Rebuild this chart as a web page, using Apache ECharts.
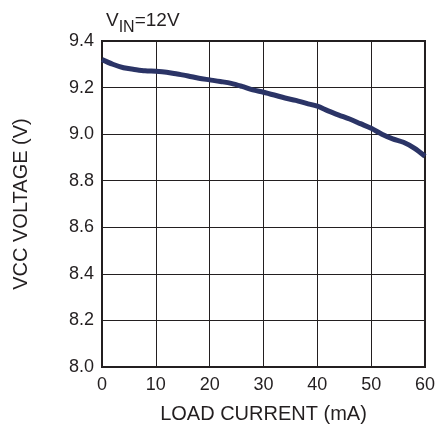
<!DOCTYPE html>
<html><head><meta charset="utf-8">
<script src="https://cdn.jsdelivr.net/npm/echarts@6/dist/echarts.min.js"></script>
<style>html,body{margin:0;padding:0;background:#fff}#c{width:438px;height:431px}</style>
</head><body><div id="c"></div>
<script>
const loadCurrent = [0,2,4,6,8,10,12,14,16,18,20,22,24,26,28,30,32,34,36,38,40,42,44,46,48,50,52,54,56,58,60];
const vccVoltage = [9.32,9.30,9.285,9.278,9.272,9.27,9.266,9.258,9.25,9.24,9.233,9.226,9.218,9.205,9.19,9.18,9.168,9.155,9.145,9.132,9.12,9.10,9.082,9.065,9.045,9.025,9.0,8.98,8.965,8.94,8.905];
const xTicks = {min:0, max:60, interval:10};
const yTicks = {min:8.0, max:9.4, interval:0.2};

const ink = '#231f20';
const ff = 'Liberation Sans, Arial, sans-serif';
const chart = echarts.init(document.getElementById('c'));
chart.setOption({
  animation:false,
  title:{
    text:'{v|V}{s|IN}{v|=12V}',
    left:101, top:3,
    textStyle:{rich:{
      v:{fontFamily:ff, fontSize:19, fontWeight:'normal', color:ink, verticalAlign:'bottom', lineHeight:22},
      s:{fontFamily:ff, fontSize:16, fontWeight:'normal', color:ink, verticalAlign:'bottom', lineHeight:22, padding:[0,0,-6,0]}
    }}
  },
  grid:{left:102, right:9, top:41, bottom:64, show:true, borderColor:ink, borderWidth:2},
  xAxis:{
    type:'value', min:xTicks.min, max:xTicks.max, interval:xTicks.interval,
    name:'LOAD CURRENT (mA)', nameLocation:'middle', nameGap:37,
    nameTextStyle:{fontFamily:ff, fontSize:20, color:ink},
    axisLine:{show:true, lineStyle:{color:ink, width:2}},
    axisTick:{show:false},
    axisLabel:{fontFamily:ff, fontSize:18, color:ink, margin:9},
    splitLine:{show:true, lineStyle:{color:ink, width:1}}
  },
  yAxis:{
    type:'value', min:yTicks.min, max:yTicks.max, interval:yTicks.interval,
    name:'VCC VOLTAGE (V)', nameLocation:'middle', nameGap:71,
    nameTextStyle:{fontFamily:ff, fontSize:20, color:ink},
    axisLine:{show:true, lineStyle:{color:ink, width:2}},
    axisTick:{show:false},
    axisLabel:{fontFamily:ff, fontSize:18, color:ink, margin:8, formatter:v=>v.toFixed(1)},
    splitLine:{show:true, lineStyle:{color:ink, width:1}}
  },
  series:[{
    type:'line', data:loadCurrent.map((x,i)=>[x,vccVoltage[i]]),
    showSymbol:false, smooth:0.3,
    lineStyle:{color:'#2b3466', width:5}
  }]
});
</script></body></html>
